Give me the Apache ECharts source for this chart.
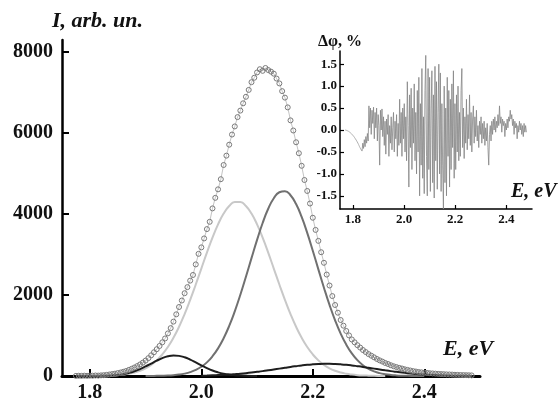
<!DOCTYPE html>
<html><head><meta charset="utf-8">
<script src="https://cdn.jsdelivr.net/npm/echarts@6/dist/echarts.min.js"></script>
<style>html,body{margin:0;padding:0;background:#fff}#c{width:560px;height:403px}</style>
</head><body><div id="c"></div>
<script>
// ---- tick labels ----
const mainXTicks = [1.8, 2.0, 2.2, 2.4];
const mainYTicks = [0, 2000, 4000, 6000, 8000];
const insetXTicks = [1.8, 2.0, 2.2, 2.4];
const insetYTicks = [-1.5, -1.0, -0.5, 0.0, 0.5, 1.0, 1.5];

// ---- measured spectrum (circles), E from 1.775 eV, step 0.005 eV ----
const measuredStart = 1.775, measuredStep = 0.005;
const measured = [
  3,6,4,8,5,9,7,12,10,
  16,20,28,37,48,58,72,86,104,123,
  150,178,210,245,285,329,380,440,510,585,
  660,740,830,925,1050,1180,1340,1520,1700,1860,
  2040,2190,2350,2490,2750,3010,3170,3390,3620,3800,
  4130,4390,4600,4850,5200,5430,5700,5950,6150,6380,
  6540,6720,6880,7050,7240,7350,7480,7560,7520,7590,
  7540,7500,7450,7330,7210,7020,6860,6620,6300,6050,
  5760,5490,5180,4830,4560,4250,3900,3600,3330,3050,
  2790,2500,2230,1970,1750,1560,1380,1240,1110,1000,
  900,830,760,700,640,590,540,500,460,420,
  385,355,320,295,265,240,220,200,185,165,
  150,135,120,110,98,90,82,75,68,63,
  58,52,48,45,40,38,35,30,28,24,
  22,20,18,15
];

// ---- fitted components, step 0.01 eV ----
const compStep = 0.01;
const lightGrayStart = 1.80;
const lightGray = [
  1,2,4,8,13,21,35,55,85,128,
  189,273,385,531,715,942,1213,1526,1877,2255,
  2648,3039,3408,3736,4002,4190,4288,4288,4190,4002,
  3736,3408,3039,2648,2255,1877,1526,1213,942,715,
  531,385,273,189,128,85,55,35,21,13,
  8,4,2,1
];
const darkGrayStart = 1.90;
const darkGray = [
  1,2,4,7,12,21,35,59,95,149,
  227,336,486,681,930,1234,1594,2001,2445,2904,
  3355,3771,4121,4381,4529,4554,4454,4237,3920,3527,
  3087,2628,2176,1752,1372,1045,774,558,391,266,
  177,114,71,44,26,15,8,4,2,1,
  0
];
const black1Start = 1.80;
const black1 = [
  1,2,4,7,14,26,46,75,116,170,
  235,306,378,440,485,505,496,461,404,335,
  263,195,136,90,56,33,19,10,5,2,
  1
];
const black2Start = 2.00;
const black2 = [
  9,12,16,22,28,36,46,57,70,85,
  102,120,140,161,182,203,224,243,261,276,
  287,295,299,299,295,287,276,261,243,224,
  203,182,161,140,120,102,85,70,57,46,
  36,28,22,16,12,9,7,5,3,2
];

// ---- inset: smooth start segment ----
const insetSmoothE = [1.770, 1.780, 1.790, 1.800, 1.810, 1.820, 1.828, 1.836];
const insetSmoothV = [0.00, -0.02, -0.06, -0.12, -0.20, -0.30, -0.40, -0.48];
// ---- inset: noisy residual, E from 1.836 eV, step 0.003 eV ----
const insetStart = 1.836, insetStep = 0.003;
const insetV = [
  -0.48,-0.30,-0.42,-0.22,-0.38,-0.15,-0.30,-0.08,-0.25,0.55,
  0.05,0.50,-0.10,0.45,0.15,0.52,-0.20,0.40,0.05,0.50,
  -0.25,0.35,0.10,-0.80,0.45,0.00,0.48,-0.15,0.30,-0.35,
  0.20,-0.55,0.25,-0.10,0.35,-0.60,0.10,-0.30,0.30,-0.45,
  0.05,0.40,-0.50,0.20,-0.20,0.35,-0.60,0.15,-0.35,0.70,
  -0.30,0.40,-0.60,0.50,-0.20,0.60,-0.50,0.30,-0.70,1.10,
  0.10,-1.30,0.80,-0.40,0.95,-0.90,0.50,-0.30,1.05,-0.70,
  0.40,-1.00,0.90,-0.50,1.20,-1.50,0.60,-0.80,1.40,-1.10,
  0.30,-1.45,0.90,1.70,-0.60,-1.50,1.40,-0.90,1.20,-1.40,
  0.50,1.35,-1.20,0.80,-1.55,1.45,-0.70,1.10,-1.35,0.40,
  1.50,-1.00,1.30,-1.40,0.60,-0.80,-1.80,1.00,-1.20,0.50,
  -1.50,1.20,-0.60,0.90,-1.30,0.70,-0.90,1.05,-0.40,1.35,
  -1.10,0.60,-0.90,0.80,-0.50,1.00,-0.70,0.40,-0.60,0.90,
  1.40,-0.40,0.50,-0.65,0.30,-0.30,0.70,-0.45,0.35,-0.20,
  0.80,-0.35,0.40,-0.50,0.25,0.55,-0.30,0.30,-0.15,0.45,
  -0.25,0.10,-0.40,0.20,-0.10,0.30,-0.30,0.15,-0.20,0.20,
  -0.35,0.05,-0.25,0.15,-0.40,-0.80,-0.10,0.10,-0.25,0.20,
  -0.10,0.25,0.00,0.30,-0.05,0.20,0.05,0.35,0.10,0.55,
  0.15,0.30,-0.05,0.25,0.10,0.20,-0.15,0.15,0.00,0.25,
  0.05,0.30,0.20,0.45,0.25,0.35,0.10,0.25,-0.10,0.20,
  0.05,0.15,-0.20,0.10,-0.05,0.20,0.00,0.15,-0.10,0.10,
  -0.15,0.15,-0.05,0.10,-0.05
];

function pairs(start, step, vals) {
  return vals.map((v, i) => [Math.round((start + i * step) * 10000) / 10000, v]);
}

const serif = '"Liberation Serif", "Times New Roman", serif';
const chart = echarts.init(document.getElementById('c'), null, {renderer: 'canvas'});

const compSeries = (name, start, vals, color, w) => ({
  name: name, type: 'line', xAxisIndex: 0, yAxisIndex: 0,
  data: pairs(start, compStep, vals), smooth: true, showSymbol: false,
  lineStyle: {color: color, width: w}, z: 2
});

chart.setOption({
  animation: false,
  backgroundColor: '#ffffff',
  grid: [
    {left: 62, top: 40, width: 418, height: 337},
    {left: 340, top: 51, width: 192, height: 158}
  ],
  xAxis: [
    {
      gridIndex: 0, type: 'value', min: 1.75, max: 2.5,
      axisLine: {onZero: false, lineStyle: {color: '#000', width: 3}},
      axisTick: {inside: true, length: 7, customValues: mainXTicks, lineStyle: {color: '#000', width: 2}},
      axisLabel: {customValues: mainXTicks, formatter: v => v.toFixed(1), fontFamily: serif, fontWeight: 'bold', fontSize: 20, color: '#111', margin: 7},
      splitLine: {show: false}
    },
    {
      gridIndex: 1, type: 'value', min: 1.75, max: 2.5,
      axisLine: {onZero: false, lineStyle: {color: '#000', width: 1.5}},
      axisTick: {inside: true, length: 4, customValues: insetXTicks, lineStyle: {color: '#000', width: 1.2}},
      axisLabel: {customValues: insetXTicks, formatter: v => v.toFixed(1), fontFamily: serif, fontWeight: 'bold', fontSize: 13, color: '#111', margin: 4},
      splitLine: {show: false}
    }
  ],
  yAxis: [
    {
      gridIndex: 0, type: 'value', min: 0, max: 8280,
      axisLine: {show: true, onZero: false, lineStyle: {color: '#000', width: 2.5}},
      axisTick: {show: true, inside: true, length: 7, customValues: mainYTicks, lineStyle: {color: '#000', width: 2}},
      axisLabel: {customValues: mainYTicks, formatter: v => String(v), fontFamily: serif, fontWeight: 'bold', fontSize: 20, color: '#111', margin: 9},
      splitLine: {show: false}
    },
    {
      gridIndex: 1, type: 'value', min: -1.8, max: 1.8,
      axisLine: {show: true, onZero: false, lineStyle: {color: '#000', width: 1.5}},
      axisTick: {show: true, inside: true, length: 4, customValues: insetYTicks, lineStyle: {color: '#000', width: 1.2}},
      axisLabel: {customValues: insetYTicks, formatter: v => v.toFixed(1), fontFamily: serif, fontWeight: 'bold', fontSize: 13, color: '#111', margin: 3},
      splitLine: {show: false}
    }
  ],
  series: [
    compSeries('light', lightGrayStart, lightGray, '#c8c8c8', 2),
    compSeries('dark', darkGrayStart, darkGray, '#707070', 2),
    compSeries('black1', black1Start, black1, '#1e1e1e', 2),
    compSeries('black2', black2Start, black2, '#1e1e1e', 2),
    {
      name: 'measured', type: 'line', xAxisIndex: 0, yAxisIndex: 0,
      data: pairs(measuredStart, measuredStep, measured),
      symbol: 'circle', symbolSize: 5, showSymbol: true, showAllSymbol: true,
      itemStyle: {color: 'rgba(255,255,255,0)', borderColor: '#7a7a7a', borderWidth: 1},
      lineStyle: {color: '#9a9a9a', width: 0.6}, z: 3
    },
    {
      name: 'insetSmooth', type: 'line', xAxisIndex: 1, yAxisIndex: 1,
      data: insetSmoothE.map((e, i) => [e, insetSmoothV[i]]),
      smooth: true, showSymbol: false, lineStyle: {color: '#b0b0b0', width: 1}
    },
    {
      name: 'inset', type: 'line', xAxisIndex: 1, yAxisIndex: 1,
      data: pairs(insetStart, insetStep, insetV),
      showSymbol: false, lineStyle: {color: '#858585', width: 0.8}
    }
  ],
  graphic: [
    {type: 'text', left: 52, top: 10, style: {text: 'I, arb. un.', font: 'italic bold 22px ' + serif, fill: '#111'}},
    {type: 'text', left: 443, top: 338, style: {text: 'E, eV', font: 'italic bold 22px ' + serif, fill: '#111'}},
    {type: 'text', left: 318, top: 34, style: {text: 'Δφ, %', font: 'bold 16px ' + serif, fill: '#111'}},
    {type: 'text', left: 511, top: 182, style: {text: 'E, eV', font: 'italic bold 20px ' + serif, fill: '#111'}}
  ]
});
</script>
</body></html>
